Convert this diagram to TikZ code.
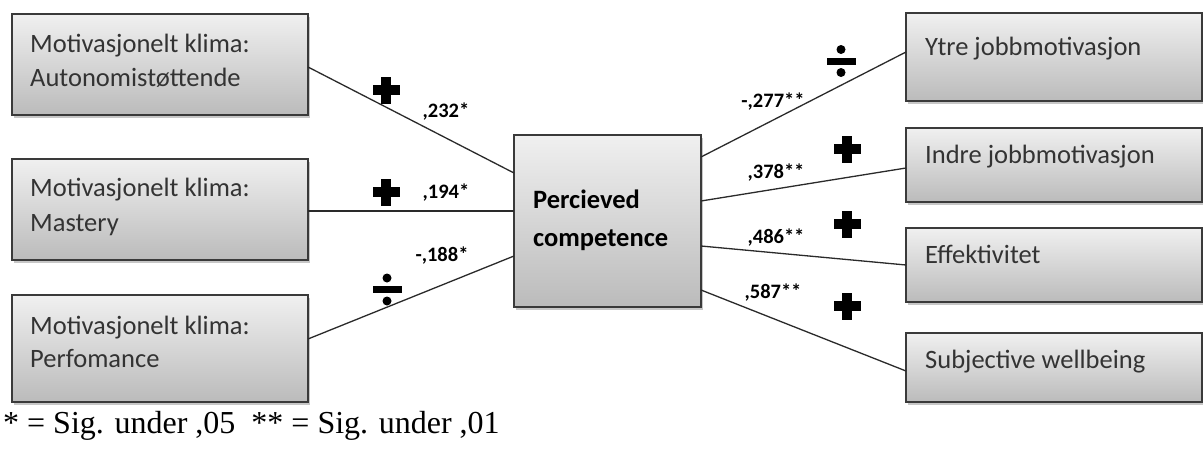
\documentclass[tikz,border=0pt]{standalone}
\usepackage{fontspec}
\newfontfamily\boxfont{Carlito}
\newfontfamily\notefont{Liberation Serif}
\usetikzlibrary{shadows}
\definecolor{boxtop}{HTML}{F0F0F0}
\definecolor{boxbot}{HTML}{BBBBBB}
\definecolor{boxline}{HTML}{3A3A3A}
\definecolor{linkcol}{HTML}{2A2A2A}
\definecolor{txtcol}{HTML}{333333}
\tikzset{
  box/.style={draw=boxline, line width=1.6pt, top color=boxtop, bottom color=boxbot,
    inner sep=0pt, outer sep=0pt, rectangle,
    drop shadow={shadow xshift=2pt, shadow yshift=-3pt, opacity=0.22, fill=black}},
  boxtext/.style={font=\boxfont\fontsize{26.5}{34}\selectfont, text=txtcol, inner sep=0pt, anchor=base west},
  centertext/.style={font=\boxfont\bfseries\fontsize{26.5}{38}\selectfont, text=black, inner sep=0pt, anchor=base west},
  coef/.style={font=\boxfont\bfseries\fontsize{20.5}{22}\selectfont, text=black, inner sep=0pt},
  link/.style={draw=linkcol, line width=1.3pt},
  plussign/.style={minimum size=28pt, inner sep=0pt,
    path picture={
      \fill[black] ([xshift=-13.5pt,yshift=-5pt]path picture bounding box.center) rectangle ([xshift=13.5pt,yshift=5pt]path picture bounding box.center);
      \fill[black] ([xshift=-5pt,yshift=-13.5pt]path picture bounding box.center) rectangle ([xshift=5pt,yshift=13.5pt]path picture bounding box.center);
    }},
  divsign/.style={minimum size=32pt, inner sep=0pt,
    path picture={
      \fill[black] ([xshift=-14.5pt,yshift=-3.5pt]path picture bounding box.center) rectangle ([xshift=14.5pt,yshift=3.5pt]path picture bounding box.center);
      \fill[black] ([yshift=11.5pt]path picture bounding box.center) circle (4.5pt);
      \fill[black] ([yshift=-11.5pt]path picture bounding box.center) circle (4.5pt);
    }},
  note/.style={font=\notefont\fontsize{32}{36}\selectfont, text=black, inner sep=0pt, anchor=base west}
}
\begin{document}
\begin{tikzpicture}[x=1pt,y=-1pt]
\useasboundingbox[fill=white] (0,0) rectangle (1203,455);

% left boxes
\node[box, minimum width=296pt, minimum height=101pt] (l1) at (160,64.5) {};
\node[box, minimum width=296pt, minimum height=101pt] (l2) at (160,209.5) {};
\node[box, minimum width=296pt, minimum height=107pt] (l3) at (160,348.5) {};
% center box
\node[box, minimum width=187pt, minimum height=172pt] (c) at (607.5,221) {};
% right boxes
\node[box, minimum width=296pt, minimum height=88pt] (r1) at (1054,57) {};
\node[box, minimum width=296pt, minimum height=74pt] (r2) at (1054,165) {};
\node[box, minimum width=296pt, minimum height=74pt] (r3) at (1054,265) {};
\node[box, minimum width=296pt, minimum height=69pt] (r4) at (1054,367.5) {};

% texts
\node[boxtext] (l1a) at (30,52) {Motivasjonelt klima:};
\node[boxtext] (l1b) at (30,86) {Autonomistøttende};
\node[boxtext] (l2a) at (30,196) {Motivasjonelt klima:};
\node[boxtext] (l2b) at (30,231) {Mastery};
\node[boxtext] (l3a) at (30,334) {Motivasjonelt klima:};
\node[boxtext] (l3b) at (30,367) {Perfomance};
\node[centertext] (ca) at (533,208) {Percieved};
\node[centertext] (cb) at (533,246) {competence};
\node[boxtext] (r1t) at (925,55) {Ytre jobbmotivasjon};
\node[boxtext] (r2t) at (925,163) {Indre jobbmotivasjon};
\node[boxtext] (r3t) at (925,263) {Effektivitet};
\node[boxtext] (r4t) at (925,368) {Subjective wellbeing};

% connectors
\draw[link] ([yshift=-2.5pt]l1.east) -- ([yshift=48pt]c.west);
\draw[link] ([yshift=-1.5pt]l2.east) -- ([yshift=10pt]c.west);
\draw[link] ([yshift=9.5pt]l3.east) -- ([yshift=-35pt]c.west);
\draw[link] ([yshift=64pt]c.east) -- ([yshift=5pt]r1.west);
\draw[link] ([yshift=20pt]c.east) -- ([yshift=-3pt]r2.west);
\draw[link] ([yshift=-25pt]c.east) -- ([yshift=0pt]r3.west);
\draw[link] ([yshift=-69pt]c.east) -- ([yshift=-3.5pt]r4.west);

% coefficients
\node[coef] (k1) at (446,112) {,232*};
\node[coef] (k2) at (446,193) {,194*};
\node[coef] (k3) at (442,256) {-,188*};
\node[coef] (k4) at (773,102) {-,277**};
\node[coef] (k5) at (776,173) {,378**};
\node[coef] (k6) at (776,238) {,486**};
\node[coef] (k7) at (773,293) {,587**};

% signs
\node[plussign] (s1) at (386,90) {};
\node[plussign] (s2) at (386,192) {};
\node[divsign] (s3) at (387,289.5) {};
\node[divsign] (s4) at (841,61) {};
\node[plussign] (s5) at (847,149) {};
\node[plussign] (s6) at (847,224) {};
\node[plussign] (s7) at (847,306) {};

% footnote
\node[note] (fn) at (3,433) {* = Sig. under ,05\ \ ** = Sig. under ,01};
\end{tikzpicture}
\end{document}
